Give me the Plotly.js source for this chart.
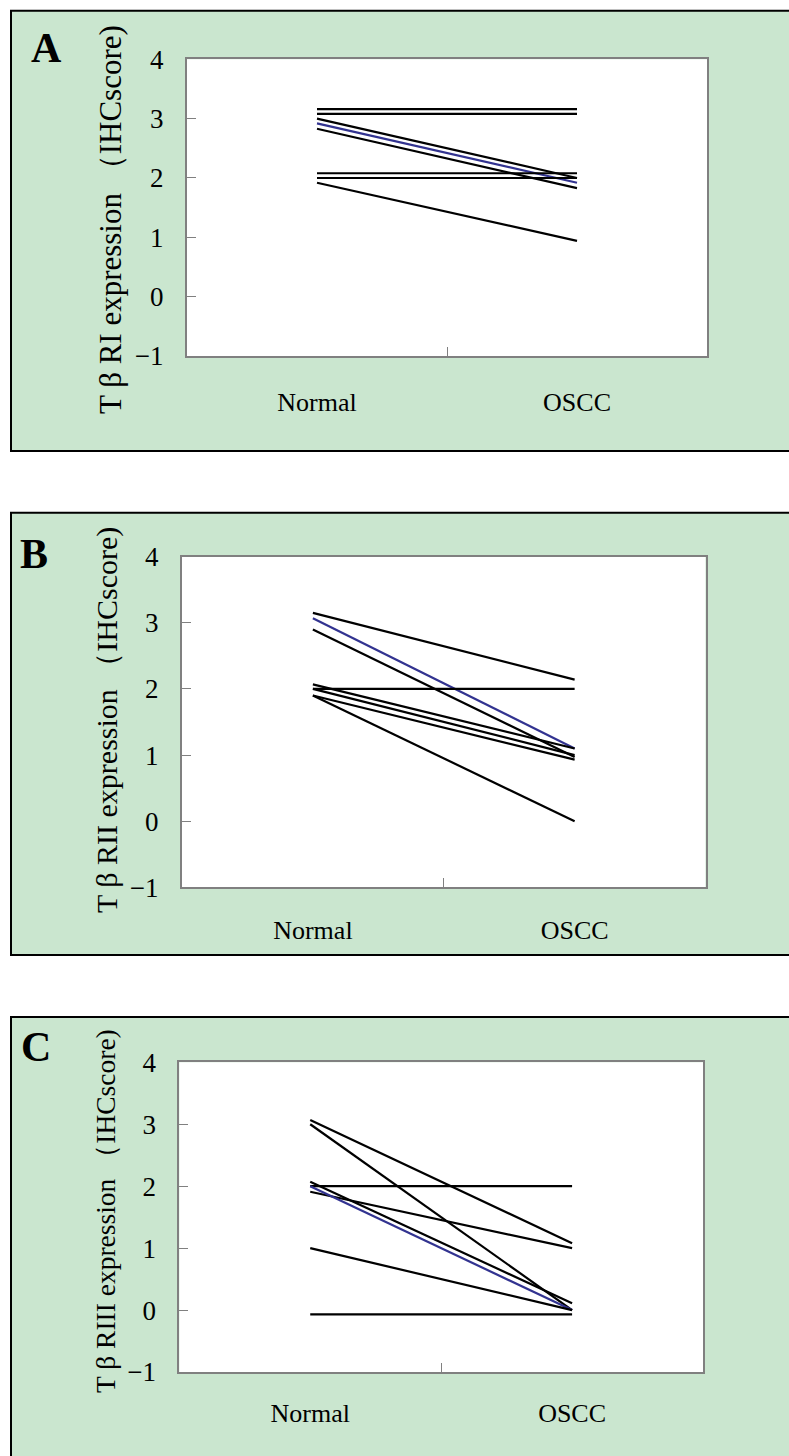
<!DOCTYPE html>
<html>
<head>
<meta charset="utf-8">
<script src="https://cdn.plot.ly/plotly-3.0.1.min.js"></script>
<style>
  html, body { margin: 0; padding: 0; background: #ffffff; }
  #chart { width: 789px; height: 1456px; }
</style>
</head>
<body>
<div id="chart"></div>
<script>
// ---------- data ----------
const categories = ["Normal", "OSCC"];
const yTickVals = [-1, 0, 1, 2, 3, 4];
const panelLetters = ["A", "B", "C"];
const yTitles = [
  "T β RI expression （IHCscore)",
  "T β RII expression （IHCscore)",
  "T β RIII expression （IHCscore)"
];

// Panel A: TβRI
const normalA = [3.16, 3.08, 3.00, 2.92, 2.83, 2.08, 2.00, 1.92];
const osccA   = [3.16, 3.08, 2.00, 1.92, 1.83, 2.08, 2.00, 0.94];
const blueA = 3;

// Panel B: TβRII
const normalB = [3.15, 3.07, 2.90, 2.07, 2.00, 2.00, 1.90, 1.90];
const osccB   = [2.14, 1.10, 0.97, 1.10, 2.00, 1.00, 0.93, 0.00];
const blueB = 1;

// Panel C: TβRIII
const normalC = [3.07, 3.00, 2.00, 1.91, 2.07, 2.00, 1.00, -0.07];
const osccC   = [1.08, 0.00, 2.00, 1.00, 0.11, 0.00, 0.00, -0.07];
const blueC = 5;

// ---------- layout geometry (pixels) ----------
const W = 789, H = 1456;
const SERIF = "Liberation Serif";
const panels = [
  {normal: normalA, oscc: osccA, blue: blueA, box: [11, 10.7, 800, 451], plot: [187, 59.3, 707, 356], title: [110, 219], titleSize: 31, letter: [46, 48], standoffX: 22},
  {normal: normalB, oscc: osccB, blue: blueB, box: [11, 512.7, 800, 955], plot: [182, 556.7, 705.5, 887.3], title: [107, 720], titleSize: 30, letter: [34, 554], standoffX: 18},
  {normal: normalC, oscc: osccC, blue: blueC, box: [11, 1017, 800, 1480], plot: [179.3, 1062.3, 703, 1372], title: [105, 1211], titleSize: 27.5, letter: [36, 1047], standoffX: 17}
];
const px = v => v / W;
const py = v => 1 - v / H;

const traces = [];
const shapes = [];
const annotations = [];
const layout = {
  width: W, height: H,
  margin: {l: 0, r: 0, t: 0, b: 0},
  paper_bgcolor: "#ffffff",
  plot_bgcolor: "rgba(0,0,0,0)",
  showlegend: false,
  font: {family: SERIF, color: "#000000"}
};

panels.forEach((p, k) => {
  const n = k + 1;
  const xa = n === 1 ? "x" : "x" + n;
  const ya = n === 1 ? "y" : "y" + n;
  // green panel
  shapes.push({type: "rect", xref: "paper", yref: "paper", layer: "below",
    x0: px(p.box[0]), x1: px(p.box[2]), y0: py(p.box[3]), y1: py(p.box[1]),
    fillcolor: "#cae6cf", line: {color: "#000000", width: 2}});
  // white plot area
  shapes.push({type: "rect", xref: "paper", yref: "paper", layer: "below",
    x0: px(p.plot[0]), x1: px(p.plot[2]), y0: py(p.plot[3]), y1: py(p.plot[1]),
    fillcolor: "#ffffff", line: {width: 0}});

  p.normal.forEach((v, i) => {
    traces.push({
      type: "scatter", mode: "lines",
      x: categories, y: [v, p.oscc[i]],
      xaxis: xa, yaxis: ya,
      line: {color: i === p.blue ? "#323390" : "#000000", width: 2.2},
      hoverinfo: "skip"
    });
  });

  layout["xaxis" + (n === 1 ? "" : n)] = {
    domain: [px(p.plot[0]), px(p.plot[2])],
    anchor: ya,
    type: "category",
    range: [-0.5, 1.5],
    tickson: "boundaries",
    ticks: "inside", ticklen: 9, tickwidth: 1, tickcolor: "#808080",
    showgrid: false, zeroline: false,
    showline: true, linecolor: "#808080", linewidth: 2, mirror: true,
    tickfont: {family: SERIF, size: 26, color: "#000000"},
    ticklabelstandoff: p.standoffX,
    fixedrange: true
  };
  layout["yaxis" + (n === 1 ? "" : n)] = {
    domain: [py(p.plot[3]), py(p.plot[1])],
    anchor: xa,
    range: [-1, 4],
    tickvals: yTickVals,
    ticks: "inside", ticklen: 9, tickwidth: 1, tickcolor: "#808080",
    showgrid: false, zeroline: false,
    showline: true, linecolor: "#808080", linewidth: 2, mirror: true,
    tickfont: {family: SERIF, size: 27, color: "#000000"},
    ticklabelstandoff: 16,
    fixedrange: true
  };

  annotations.push({xref: "paper", yref: "paper", x: px(p.title[0]), y: py(p.title[1]),
    text: yTitles[k], textangle: -90, showarrow: false, xanchor: "center", yanchor: "middle",
    font: {family: SERIF, size: p.titleSize, color: "#000000"}});
  annotations.push({xref: "paper", yref: "paper", x: px(p.letter[0]), y: py(p.letter[1]),
    text: panelLetters[k], showarrow: false, xanchor: "center", yanchor: "middle",
    font: {family: SERIF, size: 42, color: "#000000", weight: "bold"}});
});

layout.shapes = shapes;
layout.annotations = annotations;

Plotly.newPlot("chart", traces, layout, {staticPlot: true, displayModeBar: false});
</script>
</body>
</html>
